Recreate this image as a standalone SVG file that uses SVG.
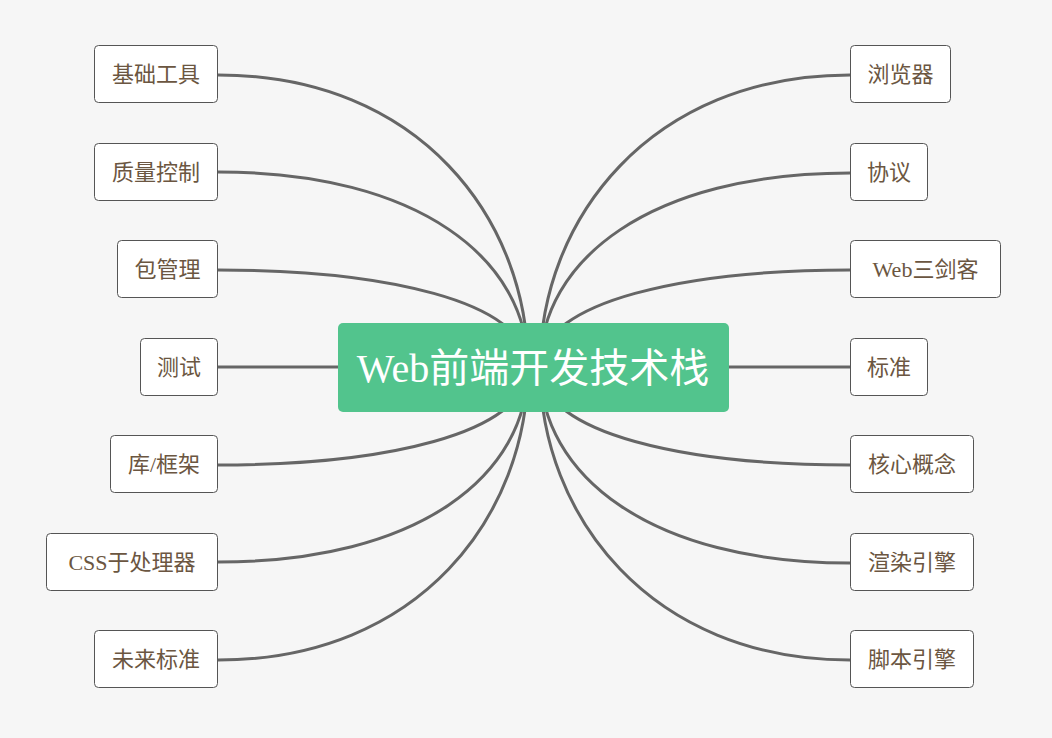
<svg xmlns="http://www.w3.org/2000/svg" width="1052" height="738" viewBox="0 0 1052 738">
<style>
.n rect{fill:#fff;stroke:#555;stroke-width:1}
.n text{font-family:"Liberation Serif","Noto Sans CJK SC",serif;font-size:22px;fill:#6b5641;dominant-baseline:central;text-anchor:middle}
.c path{fill:none;stroke:#666;stroke-width:3}
</style>
<rect width="1052" height="738" fill="#f6f6f6"/>
<g class="c">
<path d="M218 75 C420 75 528 220 528 367"/>
<path d="M218 172 C420 172 528 260 528 367"/>
<path d="M218 270 C380 270 528 300 528 367"/>
<path d="M218 367 L528 367"/>
<path d="M218 465 C380 465 528 435 528 367"/>
<path d="M218 562 C420 562 528 475 528 367"/>
<path d="M218 660 C420 660 528 515 528 367"/>
<path d="M850 75 C650 75 540 220 540 367"/>
<path d="M850 173 C650 173 540 260 540 367"/>
<path d="M850 270 C690 270 540 300 540 367"/>
<path d="M850 367 L540 367"/>
<path d="M850 465 C690 465 540 435 540 367"/>
<path d="M850 563 C650 563 540 475 540 367"/>
<path d="M850 660 C650 660 540 515 540 367"/>
</g>
<g id="center"><rect x="338" y="323" width="391" height="89" rx="5" fill="#52c48d"/>
<text x="533" y="368" font-family="Liberation Serif,'Noto Sans CJK SC',serif" font-size="40" fill="#fff" text-anchor="middle" dominant-baseline="central">Web前端开发技术栈</text></g>
<g id="n1" class="n"><rect x="94.500" y="45.500" width="123" height="57" rx="4"/><text x="156" y="74">基础工具</text></g>
<g id="n2" class="n"><rect x="94.500" y="143.500" width="123" height="57" rx="4"/><text x="156" y="172">质量控制</text></g>
<g id="n3" class="n"><rect x="117.500" y="240.500" width="100" height="57" rx="4"/><text x="167.500" y="269">包管理</text></g>
<g id="n4" class="n"><rect x="140.500" y="338.500" width="77" height="57" rx="4"/><text x="179" y="367">测试</text></g>
<g id="n5" class="n"><rect x="110.500" y="435.500" width="107" height="57" rx="4"/><text x="164" y="464">库/框架</text></g>
<g id="n6" class="n"><rect x="46.500" y="533.500" width="171" height="57" rx="4"/><text x="132" y="562">CSS于处理器</text></g>
<g id="n7" class="n"><rect x="94.500" y="630.500" width="123" height="57" rx="4"/><text x="156" y="659">未来标准</text></g>
<g id="n8" class="n"><rect x="850.500" y="45.500" width="100" height="57" rx="4"/><text x="900.500" y="74">浏览器</text></g>
<g id="n9" class="n"><rect x="850.500" y="143.500" width="77" height="57" rx="4"/><text x="889" y="172">协议</text></g>
<g id="n10" class="n"><rect x="850.500" y="240.500" width="150" height="57" rx="4"/><text x="925.500" y="269">Web三剑客</text></g>
<g id="n11" class="n"><rect x="850.500" y="338.500" width="77" height="57" rx="4"/><text x="889" y="367">标准</text></g>
<g id="n12" class="n"><rect x="850.500" y="435.500" width="123" height="57" rx="4"/><text x="912" y="464">核心概念</text></g>
<g id="n13" class="n"><rect x="850.500" y="533.500" width="123" height="57" rx="4"/><text x="912" y="562">渲染引擎</text></g>
<g id="n14" class="n"><rect x="850.500" y="630.500" width="123" height="57" rx="4"/><text x="912" y="659">脚本引擎</text></g>
</svg>
